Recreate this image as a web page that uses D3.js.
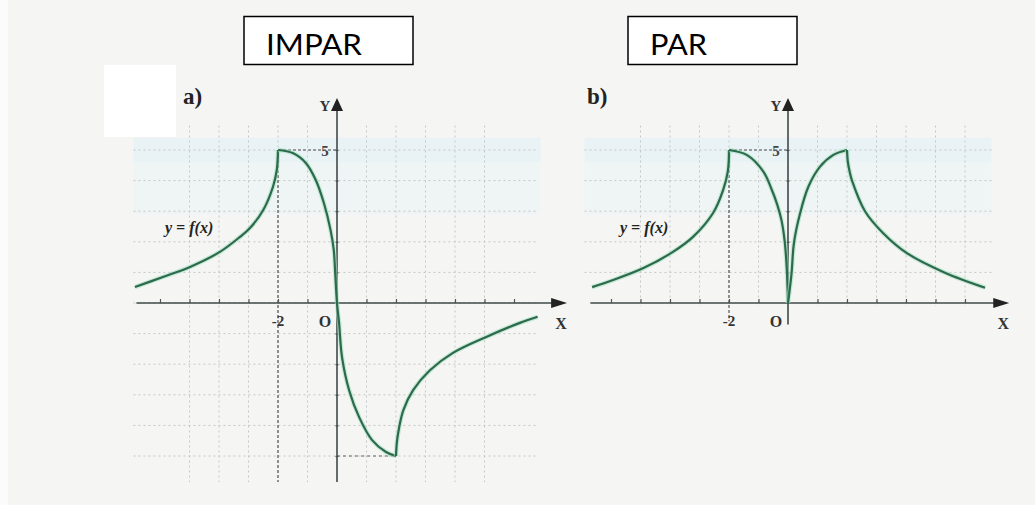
<!DOCTYPE html>
<html><head><meta charset="utf-8">
<script src="https://cdn.jsdelivr.net/npm/d3@7"></script>
<style>html,body{margin:0;padding:0;background:#f5f5f4;}svg{display:block;}</style>
</head><body>
<svg id="c" width="1035" height="505"></svg>
<script>
// ---------- data ----------
const ticksX = [-6,-5,-4,-3,-2,-1,0,1,2,3,4,5,6];
const gridYA = [5,4,3,2,1,0,-1,-2,-3,-4,-5];
const gridYB = [5,4,3,2,1];
const gridXA = [-5,-4,-3,-2,-1,1,2,3,4,5];
const gridXB = [-5,-4,-3,-2,-1,1,2,3,4,5,6];
const titles = ["IMPAR","PAR"];
const panelLabels = ["a)","b)"];
const tickLabelX = ["-2","O"];
const tickLabelY = "5";

// odd function (panel a)
const oddLeftX  = [-6.85,-5.9,-4.98,-3.97,-3.29,-2.95,-2.5,-2.17,-2.04,-2];
const oddLeftY  = [0.52,0.85,1.18,1.67,2.16,2.45,3.04,3.8,4.35,5];
const oddMidX   = [-2,-1.5,-1.05,-0.72,-0.44,-0.22,-0.11,-0.06,0,0.07,0.17,0.41,0.75,1.19,1.66,2];
const oddMidY   = [5,4.9,4.57,4.02,3.25,2.39,1.74,0.97,0,-0.65,-1.77,-2.85,-3.73,-4.48,-4.87,-5];
const oddRightX = [2,2.03,2.1,2.25,2.58,3.15,3.93,5.08,6.2,6.8];
const oddRightY = [-5,-4.55,-4.1,-3.5,-2.85,-2.2,-1.63,-1.1,-0.65,-0.45];

// even function (panel b)
const evenLeftX  = [-6.64,-5.93,-4.9,-3.9,-3.22,-2.54,-2.2,-2.04,-2];
const evenLeftY  = [0.52,0.75,1.14,1.67,2.16,2.94,3.69,4.3,5];
const evenMidLX  = [-2,-1.4,-0.84,-0.55,-0.36,-0.22,-0.11,-0.04,0];
const evenMidLY  = [5,4.84,4.3,3.7,3.2,2.7,2.0,1.1,0];
const evenMidRX  = [0,0.12,0.2,0.41,0.69,1.08,1.54,2];
const evenMidRY  = [0,0.97,1.95,2.93,3.8,4.45,4.84,5];
const evenRightX = [2,2.03,2.1,2.17,2.61,3.22,4.03,5.3,6.68];
const evenRightY = [5,4.6,4.25,4.0,3.0,2.29,1.63,1.0,0.5];

// ---------- drawing ----------
const svg = d3.select("#c");
svg.append("rect").attr("width",1035).attr("height",505).attr("fill","#f5f5f4");
svg.append("rect").attr("width",8).attr("height",505).attr("fill","#fbfbfb");

const serif = "'Liberation Serif','DejaVu Serif',serif";
const ux = 29.5, uy = 30.6;
const yScale = d3.scaleLinear().domain([-5,5]).range([303+5*uy, 303-5*uy]);

function panel(cfg){
  const x = d3.scaleLinear().domain([-7,7]).range([cfg.cx-7*ux, cfg.cx+7*ux]);
  const y = yScale;
  const g = svg.append("g");
  // faint blue band
  g.append("rect").attr("x",x(-6.9)).attr("y",y(5.4)).attr("width",x(6.9)-x(-6.9)).attr("height",y(4.6)-y(5.4)).attr("fill","#e9f3f6");
  g.append("rect").attr("x",x(-6.9)).attr("y",y(4.6)).attr("width",x(6.9)-x(-6.9)).attr("height",y(2.9)-y(4.6)).attr("fill","#eff4f5");
  // grid
  const yBottom = cfg.odd ? y(-5.85) : y(-0.1);
  g.selectAll(".gv").data(cfg.gridX).join("line")
    .attr("x1",d=>x(d)).attr("x2",d=>x(d)).attr("y1",y(5.8)).attr("y2",yBottom)
    .attr("stroke","#c4c7c7").attr("stroke-width",1).attr("stroke-dasharray","2,3");
  g.selectAll(".gh").data(cfg.gridY).join("line")
    .attr("x1",x(-6.9)).attr("x2",x(cfg.gridRight)).attr("y1",d=>y(d)).attr("y2",d=>y(d))
    .attr("stroke","#c4c7c7").attr("stroke-width",1).attr("stroke-dasharray","2,3");
  // darker guide lines
  g.append("line").attr("x1",x(-2)).attr("x2",x(-2)).attr("y1",y(5)).attr("y2",cfg.odd?y(-5.85):y(-0.6))
    .attr("stroke","#555").attr("stroke-width",1.2).attr("stroke-dasharray","3,2");
  g.append("line").attr("x1",x(-2)).attr("x2",x(0)).attr("y1",y(5)).attr("y2",y(5))
    .attr("stroke","#555").attr("stroke-width",1.2).attr("stroke-dasharray","3,2");
  if(cfg.odd){
    g.append("line").attr("x1",x(0)).attr("x2",x(2)).attr("y1",y(-5)).attr("y2",y(-5))
      .attr("stroke","#666").attr("stroke-width",1.1).attr("stroke-dasharray","3,3");
  }
  // x axis
  const axisX = d3.axisBottom(x).tickValues(ticksX).tickSize(-4).tickFormat("");
  const ax = g.append("g").attr("transform",`translate(0,${y(0)})`).call(axisX);
  ax.select(".domain").remove();
  ax.selectAll("line").attr("stroke","#555").attr("stroke-width",1.2);
  g.append("line").attr("x1",x(cfg.xStart)).attr("x2",x(cfg.xEnd)-8).attr("y1",y(0)).attr("y2",y(0))
    .attr("stroke","#3f4a4a").attr("stroke-width",1.6);
  const tx = x(cfg.xEnd);
  g.append("path").attr("d",`M${tx},${y(0)} L${tx-16},${y(0)-5} L${tx-16},${y(0)+5} Z`).attr("fill","#222");
  // y axis
  const axisY = d3.axisLeft(y).tickValues(cfg.gridY.filter(d=>d!==0)).tickSize(-3).tickFormat("");
  const ay = g.append("g").attr("transform",`translate(${x(0)-1.5},0)`).call(axisY);
  ay.select(".domain").remove();
  ay.selectAll("line").attr("stroke","#555").attr("stroke-width",1.2);
  g.append("line").attr("x1",x(0)).attr("x2",x(0)).attr("y1",y(6.3)).attr("y2",cfg.odd?y(-5.85):y(-0.7))
    .attr("stroke","#3f4a4a").attr("stroke-width",1.6);
  g.append("path").attr("d",`M${x(0)},${y(6.7)} L${x(0)-6},${y(6.7)+13} L${x(0)+6},${y(6.7)+13} Z`).attr("fill","#222");
  // labels
  g.append("text").attr("x",x(0)-12).attr("y",y(6.7)+13).attr("text-anchor","middle")
    .attr("font-family",serif).attr("font-weight","bold").attr("font-size",15).attr("fill","#333").text("Y");
  g.append("text").attr("x",tx-6).attr("y",y(0)+26).attr("text-anchor","middle")
    .attr("font-family",serif).attr("font-weight","bold").attr("font-size",16).attr("fill","#333").text("X");
  g.append("text").attr("x",x(0)-12).attr("y",y(5)+6).attr("text-anchor","middle")
    .attr("font-family",serif).attr("font-weight","bold").attr("font-size",15).attr("fill","#444").text(tickLabelY);
  g.append("text").attr("x",x(-2)).attr("y",y(0)+23).attr("text-anchor","middle")
    .attr("font-family",serif).attr("font-weight","bold").attr("font-size",15).attr("fill","#333").text(tickLabelX[0]);
  g.append("text").attr("x",x(0)-12).attr("y",y(0)+24).attr("text-anchor","middle")
    .attr("font-family",serif).attr("font-weight","bold").attr("font-size",16).attr("fill","#333").text(tickLabelX[1]);
  g.append("text").attr("x",cfg.fx).attr("y",y(2.3)).attr("text-anchor","start")
    .attr("font-family",serif).attr("font-weight","bold").attr("font-style","italic").attr("font-size",16).attr("fill","#222").text("y = f(x)");
  g.append("text").attr("x",cfg.lx).attr("y",104).attr("font-family",serif).attr("font-weight","bold")
    .attr("font-size",23).attr("fill","#222").text(cfg.label);
  // curves
  const line = d3.line().x(d=>x(d[0])).y(d=>y(d[1])).curve(d3.curveCatmullRom.alpha(0.5));
  cfg.segs.forEach(s=>{
    const pts = s[0].map((v,i)=>[v,s[1][i]]);
    g.append("path").attr("d",line(pts)).attr("fill","none").attr("stroke","#a7dfc2").attr("stroke-width",4.5).attr("stroke-opacity",0.6);
    g.append("path").attr("d",line(pts)).attr("fill","none").attr("stroke","#2c6a4c").attr("stroke-width",2.2).attr("stroke-linejoin","round");
  });
}

panel({cx:337, odd:true, gridX:gridXA, gridY:gridYA, gridRight:6.8, xStart:-6.8, xEnd:7.8, fx:165, lx:183, label:panelLabels[0],
  segs:[[oddLeftX,oddLeftY],[oddMidX,oddMidY],[oddRightX,oddRightY]]});
panel({cx:788, odd:false, gridX:gridXB, gridY:gridYB, gridRight:6.9, xStart:-6.7, xEnd:7.5, fx:620, lx:587, label:panelLabels[1],
  segs:[[evenLeftX,evenLeftY],[evenMidLX,evenMidLY],[evenMidRX,evenMidRY],[evenRightX,evenRightY]]});

// white cover rectangle
svg.append("rect").attr("x",104).attr("y",65).attr("width",72).attr("height",72).attr("fill","#ffffff");

// title boxes
const boxes = [{x:244,w:169,tx:266,tw:96},{x:628,w:169,tx:650,tw:57}];
boxes.forEach((b,i)=>{
  svg.append("rect").attr("x",b.x).attr("y",16.5).attr("width",b.w).attr("height",48).attr("fill","#fff").attr("stroke","#000").attr("stroke-width",1.5);
  svg.append("text").attr("x",b.tx).attr("y",55).attr("font-family","Lato,'Open Sans',sans-serif").attr("font-size",28)
    .attr("fill","#000").attr("textLength",b.tw).attr("lengthAdjust","spacingAndGlyphs").text(titles[i]);
});
</script>
</body></html>
